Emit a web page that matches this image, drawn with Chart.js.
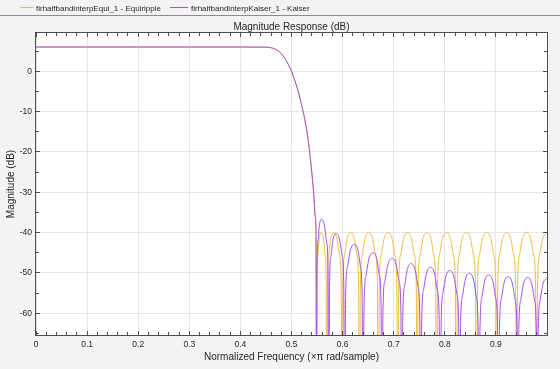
<!DOCTYPE html>
<html lang="en">
<head>
<meta charset="UTF-8">
<title>Magnitude Response (dB)</title>
<style>
  html, body { margin: 0; padding: 0; background: #f3f3f3; }
  #wrap { width: 560px; height: 369px; }
</style>
</head>
<body>
<div id="wrap"><canvas id="magChart" width="560" height="369"></canvas></div>
<script src="https://cdn.jsdelivr.net/npm/chart.js@4.4.0/dist/chart.umd.min.js"></script>
<script>
// passband + transition band, same for both filters (x = normalized freq, y = dB)
var bandFreq = [0, 0.1, 0.2, 0.3, 0.4, 0.44, 0.455, 0.468, 0.48, 0.49, 0.5, 0.507, 0.514, 0.52,
                0.527, 0.533, 0.539, 0.5435, 0.5465, 0.548, 0.549];
var bandMag = [6.02, 6.02, 6.02, 6.02, 6.02, 6.01, 5.94, 5.5, 4.4, 2.6, 0.0, -2.5, -5.4, -8.5,
               -12.6, -17.4, -24.2, -30.4, -36.0, -40.5, -100];

// stopband, equiripple design
var equiStopFreq = [
  0.5499, 0.5517, 0.5544, 0.558, 0.5624, 0.5657, 0.5679, 0.569,
  0.5703, 0.5729, 0.5768, 0.582, 0.5888, 0.5939, 0.5973, 0.599,
  0.6007, 0.6041, 0.6092, 0.616, 0.6228, 0.6279, 0.6313, 0.633,
  0.6348, 0.6384, 0.6438, 0.651, 0.6586, 0.6643, 0.6681, 0.670,
  0.6719, 0.6757, 0.6814, 0.689, 0.6966, 0.7023, 0.7061, 0.708,
  0.7099, 0.7137, 0.7194, 0.727, 0.7346, 0.7403, 0.7441, 0.746,
  0.7479, 0.7517, 0.7574, 0.765, 0.7726, 0.7783, 0.7821, 0.784,
  0.7859, 0.7897, 0.7954, 0.803, 0.8108, 0.8167, 0.8206, 0.8225,
  0.8245, 0.8284, 0.8342, 0.842, 0.850, 0.856, 0.860, 0.862,
  0.864, 0.868, 0.874, 0.882, 0.8898, 0.8957, 0.8996, 0.9015,
  0.9035, 0.9074, 0.9132, 0.921, 0.9288, 0.9347, 0.9386, 0.9405,
  0.9425, 0.9464, 0.9522, 0.960, 0.9678, 0.9737, 0.9776, 0.9795,
  0.9816, 0.9857, 0.9918, 1.0
];
var equiStopMag = [
  -53, -45.5, -41.4, -40, -41.4, -45.5, -53, -100,
  -53, -45.5, -41.4, -40, -41.4, -45.5, -53, -100,
  -53, -45.5, -41.4, -40, -41.4, -45.5, -53, -100,
  -53, -45.5, -41.4, -40, -41.4, -45.5, -53, -100,
  -53, -45.5, -41.4, -40, -41.4, -45.5, -53, -100,
  -53, -45.5, -41.4, -40, -41.4, -45.5, -53, -100,
  -53, -45.5, -41.4, -40, -41.4, -45.5, -53, -100,
  -53, -45.5, -41.4, -40, -41.4, -45.5, -53, -100,
  -53, -45.5, -41.4, -40, -41.4, -45.5, -53, -100,
  -53, -45.5, -41.4, -40, -41.4, -45.5, -53, -100,
  -53, -45.5, -41.4, -40, -41.4, -45.5, -53, -100,
  -53, -45.5, -41.4, -40, -41.4, -45.5, -53, -100,
  -53, -45.5, -41.4, -40
];

// stopband, kaiser window design
var kaiserStopFreq = [
  0.5499, 0.5518, 0.5546, 0.5584, 0.5642, 0.5686, 0.5715, 0.573,
  0.5744, 0.5773, 0.5815, 0.5872, 0.5939, 0.5990, 0.6023, 0.604,
  0.6059, 0.6097, 0.6154, 0.623, 0.6298, 0.6349, 0.6383, 0.640,
  0.6420, 0.6459, 0.6518, 0.6596, 0.6666, 0.6718, 0.6753, 0.677,
  0.6790, 0.6829, 0.6889, 0.6968, 0.7045, 0.7102, 0.7141, 0.716,
  0.7178, 0.7214, 0.7268, 0.734, 0.7416, 0.7473, 0.7511, 0.753,
  0.7549, 0.7586, 0.7643, 0.7718, 0.7795, 0.7852, 0.7891, 0.791,
  0.7929, 0.7966, 0.8022, 0.8096, 0.8174, 0.8232, 0.8271, 0.829,
  0.8309, 0.8347, 0.8405, 0.8481, 0.8557, 0.8613, 0.8651, 0.867,
  0.8689, 0.8727, 0.8783, 0.8859, 0.8935, 0.8993, 0.9031, 0.905,
  0.9069, 0.9107, 0.9164, 0.924, 0.9316, 0.9373, 0.9411, 0.943,
  0.9449, 0.9488, 0.9545, 0.9622, 0.9697, 0.9754, 0.9791, 0.981,
  0.9829, 0.9867, 0.9924, 1.0
];
var kaiserStopMag = [
  -49.7, -42.2, -38.1, -36.7, -38.1, -42.2, -49.7, -100,
  -53.2, -45.7, -41.6, -40.2, -41.6, -45.7, -53.2, -100,
  -55.9, -48.4, -44.3, -42.9, -44.3, -48.4, -55.9, -100,
  -58.0, -50.5, -46.4, -45.0, -46.4, -50.5, -58.0, -100,
  -59.4, -51.9, -47.8, -46.4, -47.8, -51.9, -59.4, -100,
  -60.7, -53.2, -49.1, -47.7, -49.1, -53.2, -60.7, -100,
  -61.6, -54.1, -50.0, -48.6, -50.0, -54.1, -61.6, -100,
  -62.4, -54.9, -50.8, -49.4, -50.8, -54.9, -62.4, -100,
  -63.1, -55.6, -51.5, -50.1, -51.5, -55.6, -63.1, -100,
  -63.5, -56.0, -51.9, -50.5, -51.9, -56.0, -63.5, -100,
  -63.9, -56.4, -52.3, -50.9, -52.3, -56.4, -63.9, -100,
  -64.1, -56.6, -52.5, -51.1, -52.5, -56.6, -64.1, -100,
  -64.2, -56.7, -52.6, -51.2
];

var xTicks = [0, 0.1, 0.2, 0.3, 0.4, 0.5, 0.6, 0.7, 0.8, 0.9];
var yTicks = [0, -10, -20, -30, -40, -50, -60];

var seriesNames = ['firhalfbandinterpEqui_1 - Equiripple', 'firhalfbandinterpKaiser_1 - Kaiser'];
var seriesColors = ['#F2BC45', '#A64FE2'];

var FONT = "'Liberation Sans', Arial, Helvetica, sans-serif";
var TEXT = '#262626';

function toPoints(fs, ms) {
    return fs.map(function (f, i) { return { x: f, y: ms[i] }; });
}

function align(p) { return Math.round(p - 0.5) + 0.5; }

// figure background, axes box, inner ticks, legend strip and titles
var frame = {
    id: 'frame',
    beforeDraw: function (chart) {
        var ctx = chart.ctx, a = chart.chartArea;
        ctx.save();
        ctx.fillStyle = '#f3f3f3';
        ctx.fillRect(0, 0, chart.width, chart.height);
        ctx.fillStyle = '#ffffff';
        ctx.fillRect(a.left, a.top, a.right - a.left, a.bottom - a.top);
        ctx.restore();
    },
    afterDatasetsDraw: function (chart) {
        var ctx = chart.ctx, a = chart.chartArea;
        var xs = chart.scales.x, ys = chart.scales.y;
        ctx.save();
        ctx.strokeStyle = '#4d4d4d';
        ctx.lineWidth = 1;
        ctx.beginPath();
        for (var i = 0; i <= 50; i++) {
            var px = align(xs.getPixelForValue(i * 0.02));
            var len = i % 5 === 0 ? 4 : 3;
            ctx.moveTo(px, a.bottom); ctx.lineTo(px, a.bottom - len);
            ctx.moveTo(px, a.top); ctx.lineTo(px, a.top + len);
        }
        for (var v = -65; v <= 5; v += 5) {
            var py = align(ys.getPixelForValue(v));
            var l2 = v % 10 === 0 ? 4 : 3;
            ctx.moveTo(a.left, py); ctx.lineTo(a.left + l2, py);
            ctx.moveTo(a.right, py); ctx.lineTo(a.right - l2, py);
        }
        ctx.stroke();
        ctx.strokeRect(a.left - 0.5, a.top - 0.5, a.right - a.left + 1, a.bottom - a.top + 1);
        ctx.restore();
    },
    afterDraw: function (chart) {
        var ctx = chart.ctx, a = chart.chartArea;
        var cx = (a.left + a.right) / 2, cy = (a.top + a.bottom) / 2;
        ctx.save();
        // legend strip
        ctx.fillStyle = '#8c8c8c';
        ctx.fillRect(0, 15, chart.width, 1);
        var items = [[20, 33.5, 36], [170, 188, 191]];
        ctx.font = '8px ' + FONT;
        ctx.textBaseline = 'alphabetic';
        ctx.textAlign = 'left';
        for (var k = 0; k < seriesNames.length; k++) {
            var it = items[k];
            ctx.strokeStyle = seriesColors[k];
            ctx.lineWidth = 1;
            ctx.beginPath();
            ctx.moveTo(it[0], 7.5); ctx.lineTo(it[1], 7.5);
            ctx.stroke();
            ctx.fillStyle = TEXT;
            ctx.fillText(seriesNames[k], it[2], 10.5);
        }
        // titles
        ctx.fillStyle = TEXT;
        ctx.font = '10px ' + FONT;
        ctx.textAlign = 'center';
        ctx.fillText('Magnitude Response (dB)', cx, 29.5);
        ctx.fillText('Normalized Frequency (\u00d7\u03c0 rad/sample)', cx, 360);
        ctx.translate(14, cy);
        ctx.rotate(-Math.PI / 2);
        ctx.fillText('Magnitude (dB)', 0, 0);
        ctx.restore();
    }
};

function createChart() {
    var ctx = document.getElementById('magChart').getContext('2d');
    var tickFont = { family: FONT, size: 8.5 };
    new Chart(ctx, {
        type: 'line',
        data: {
            datasets: [
                {
                    label: seriesNames[0],
                    data: toPoints(bandFreq.concat(equiStopFreq), bandMag.concat(equiStopMag)),
                    borderColor: seriesColors[0],
                    order: 1
                },
                {
                    label: seriesNames[1],
                    data: toPoints(bandFreq.concat(kaiserStopFreq), bandMag.concat(kaiserStopMag)),
                    borderColor: seriesColors[1],
                    order: 0
                }
            ]
        },
        options: {
            responsive: false,
            animation: false,
            devicePixelRatio: 1,
            layout: { padding: { top: 33, right: 13, bottom: 0, left: 0 } },
            elements: {
                point: { radius: 0 },
                line: { borderWidth: 1, cubicInterpolationMode: 'monotone', capBezierPoints: false, fill: false }
            },
            plugins: { legend: { display: false }, tooltip: { enabled: false }, title: { display: false } },
            scales: {
                x: {
                    type: 'linear',
                    min: 0,
                    max: 1,
                    afterBuildTicks: function (s) { s.ticks = xTicks.map(function (v) { return { value: v }; }); },
                    afterFit: function (s) { s.height = 34; },
                    grid: { color: '#e6e6e6', lineWidth: 1, drawTicks: false },
                    border: { display: false },
                    ticks: { font: tickFont, color: TEXT, padding: 5, maxRotation: 0, autoSkip: false,
                             callback: function (v) { return String(v); } }
                },
                y: {
                    type: 'linear',
                    min: -65.4,
                    max: 9.5,
                    afterBuildTicks: function (s) { s.ticks = yTicks.map(function (v) { return { value: v }; }); },
                    afterFit: function (s) { s.width = 36; },
                    grid: { color: '#e6e6e6', lineWidth: 1, drawTicks: false },
                    border: { display: false },
                    ticks: { font: tickFont, color: TEXT, padding: 4, autoSkip: false,
                             callback: function (v) { return String(v); } }
                }
            }
        },
        plugins: [frame]
    });
}
createChart();
</script>
</body>
</html>
